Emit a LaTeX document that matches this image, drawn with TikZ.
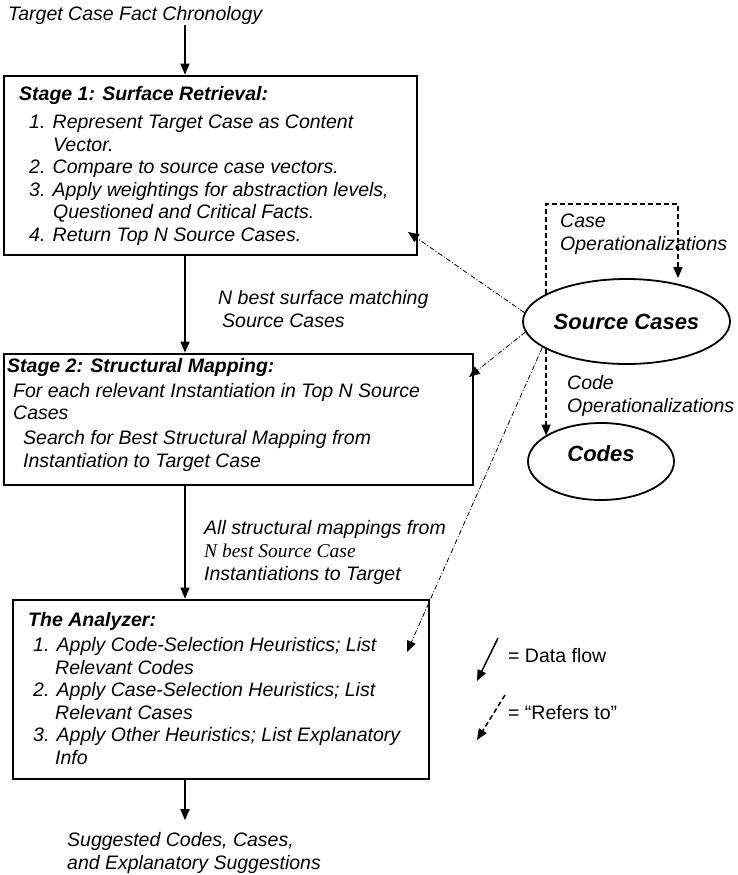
\documentclass[tikz,border=0pt]{standalone}
\usepackage{fontspec}
\setmainfont{Liberation Sans}
\newfontfamily\timesfont{Liberation Serif}
\usetikzlibrary{arrows.meta,shapes.geometric}

\begin{document}
\begin{tikzpicture}[x=1pt,y=-1pt,
  every node/.style={inner sep=0pt,font=\fontsize{19.5}{22.5}\selectfont\itshape},
  txt/.style={anchor=base west,align=left},
  stagebox/.style={draw,rectangle,line width=2.8pt},
  oval/.style={draw,ellipse,line width=1.8pt,font=\fontsize{22}{26}\selectfont\bfseries\itshape},
  flow/.style={line width=1.5pt,-{Triangle[length=11pt,width=9pt]}},
  refer/.style={line width=1.5pt,dash pattern=on 5pt off 3pt,-{Triangle[length=11pt,width=9pt]}},
  refthin/.style={line width=0.8pt,dash pattern=on 5pt off 2pt on 1pt off 2pt,-{Triangle[length=11pt,width=9pt]}}]
\useasboundingbox (0,0) rectangle (737,875);
\coordinate (spine) at (185,0);

\node[txt] (title) at (8,21) {Target Case Fact Chronology};

\node[stagebox,minimum width=413pt,minimum height=179pt] (stageone) at (210.5,165.5) {};
\node[txt] (stageonetext) at (19,241) {\textbf{Stage 1: Surface Retrieval:}\\[5.5pt]
  \hspace*{10pt}1. Represent Target Case as Content\\
  \hspace*{34pt}Vector.\\
  \hspace*{10pt}2. Compare to source case vectors.\\
  \hspace*{10pt}3. Apply weightings for abstraction levels,\\
  \hspace*{34pt}Questioned and Critical Facts.\\
  \hspace*{10pt}4. Return Top N Source Cases.};

\node[stagebox,minimum width=469pt,minimum height=131pt] (stagetwo) at (238.5,419.5) {};
\node[txt] (stagetwotext) at (7,467) {\textbf{Stage 2: Structural Mapping:}\\[2.5pt]
  \hspace*{6pt}For each relevant Instantiation in Top N Source\\
  \hspace*{6pt}Cases\\[2.5pt]
  \hspace*{16pt}Search for Best Structural Mapping from\\
  \hspace*{16pt}Instantiation to Target Case};

\node[stagebox,minimum width=416pt,minimum height=179pt] (analyzer) at (221,689.5) {};
\node[txt] (analyzertext) at (28,764) {\textbf{The Analyzer:}\\[2.5pt]
  \hspace*{5pt}1. Apply Code-Selection Heuristics; List\\
  \hspace*{27pt}Relevant Codes\\
  \hspace*{5pt}2. Apply Case-Selection Heuristics; List\\
  \hspace*{27pt}Relevant Cases\\
  \hspace*{5pt}3. Apply Other Heuristics; List Explanatory\\
  \hspace*{27pt}Info};

\node[txt] (surflab) at (218,327) {N best surface matching\\\hspace*{4pt}Source Cases};
\node[txt] (maplab) at (204,580) {All structural mappings from\\[1pt]{\timesfont\itshape N best Source Case}\\Instantiations to Target};
\node[txt,inner ysep=12pt] (outlab) at (67,869) {Suggested Codes, Cases,\\and Explanatory Suggestions};

\node[oval,minimum width=207pt,minimum height=85pt] (source) at (626.5,321.5) {Source Cases};
\node[oval,minimum width=146pt,minimum height=77pt,text height=6pt,text depth=6pt] (codes) at (601,461.5) {Codes};

\draw[flow] (title.south -| spine) -- (stageone.north -| spine);
\draw[flow] (stageone.south -| spine) -- (stagetwo.north -| spine);
\draw[flow] (stagetwo.south -| spine) -- (analyzer.north -| spine);
\draw[flow] (analyzer.south -| spine) -- (outlab.north -| spine);

\coordinate (onein) at (408,232);
\coordinate (twoin) at (469,377);
\coordinate (anain) at (407,652);
\draw[refthin] (source.175) -- (onein);
\draw[refthin] (source.186) -- (twoin);
\draw[refthin] (source.197) -- (anain);

\coordinate (caseop) at (678,204);
\draw[refer] (source.161) |- (caseop) -- (caseop |- source.north);
\draw[refer] (source.199) -- (source.199 |- codes.155);
\node[txt] (caseoplab) at (560,250) {Case\\Operationalizations};
\node[txt] (codeoplab) at (567,412) {Code\\Operationalizations};

\coordinate (flowa) at (498,638);
\coordinate (flowb) at (477,681);
\coordinate (refa) at (505,695);
\coordinate (refb) at (477,740);
\draw[flow] (flowa) -- (flowb);
\draw[refer] (refa) -- (refb);
\node[txt,font=\fontsize{19.5}{22.5}\selectfont] (flowlab) at (508,662) {= Data flow};
\node[txt,font=\fontsize{19.5}{22.5}\selectfont] (reflab) at (508,719) {= “Refers to”};
\end{tikzpicture}
\end{document}
